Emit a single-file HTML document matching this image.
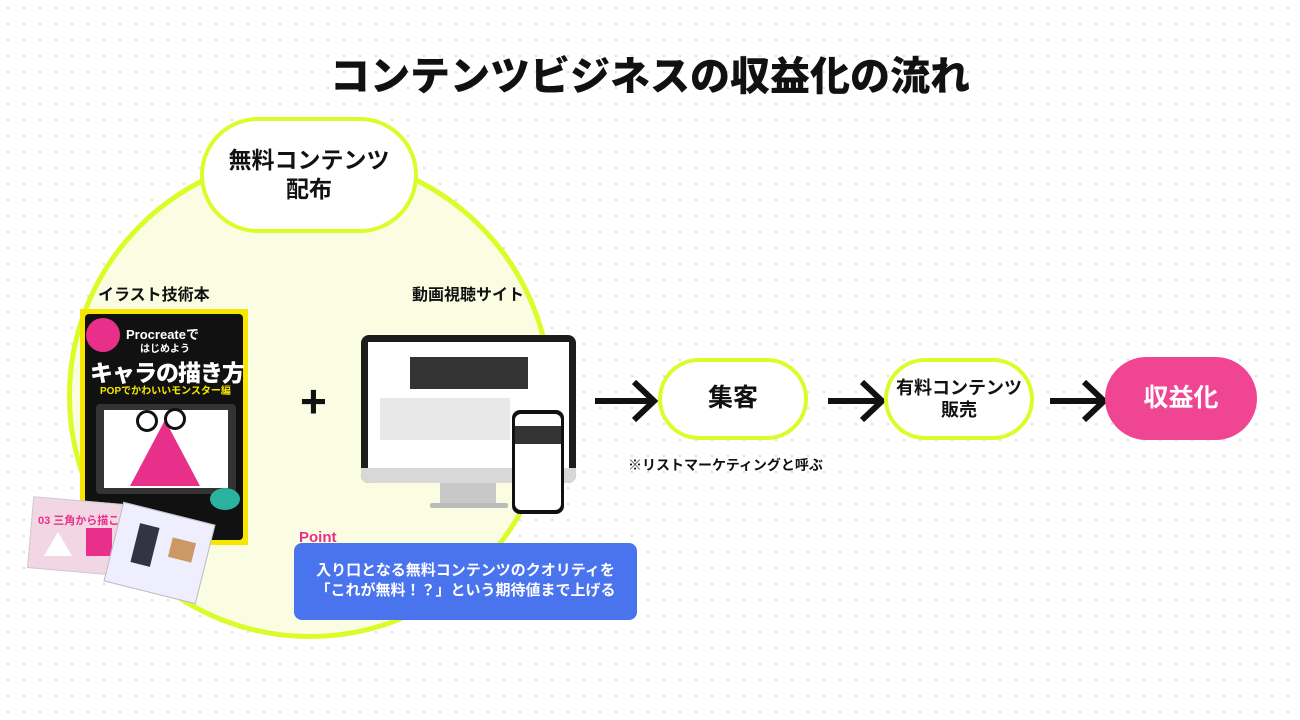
<!DOCTYPE html>
<html><head><meta charset="utf-8"><style>
*{margin:0;padding:0;box-sizing:border-box}
body{width:1300px;height:720px;overflow:hidden;background:#fff;position:relative;font-family:"Liberation Sans","Noto Sans CJK JP",sans-serif;font-weight:700;color:#111;
background-image:radial-gradient(circle,#d8d8d8 0.9px,transparent 1.2px);background-size:16px 16px;}
.abs{position:absolute}
.pill{position:absolute;border:4px solid #dcfc2a;background:#fff;border-radius:60px;display:flex;align-items:center;justify-content:center;text-align:center;line-height:1.25}
</style></head><body>
<div class="abs" style="left:0;top:44px;width:1300px;text-align:center;font-size:40px;font-weight:900">コンテンツビジネスの収益化の流れ</div>

<div class="abs" style="left:67px;top:153px;width:486px;height:486px;border-radius:50%;background:#fbfde3;border:5px solid #dcfc2a"></div>
<div class="pill" style="left:200px;top:117px;width:218px;height:116px;border-radius:58px;font-size:23px">無料コンテンツ<br>配布</div>

<div class="abs" style="left:98px;top:281px;font-size:16px">イラスト技術本</div>
<div class="abs" style="left:412px;top:281px;font-size:16px">動画視聴サイト</div>

<!-- book -->
<div class="abs" style="left:80px;top:309px;width:168px;height:236px;background:#f7e600"></div>
<div class="abs" style="left:85px;top:314px;width:158px;height:226px;background:#111;border-radius:4px"></div>
<div class="abs" style="left:86px;top:318px;width:34px;height:34px;border-radius:50%;background:#e8308a"></div>
<div class="abs" style="left:126px;top:324px;color:#fff;font-size:13px">Procreateで</div>
<div class="abs" style="left:140px;top:340px;color:#fff;font-size:10px">はじめよう</div>
<div class="abs" style="left:90px;top:354px;color:#fff;font-size:23px;font-weight:900;letter-spacing:-1px">キャラの描き方</div>
<div class="abs" style="left:100px;top:382px;color:#f7e600;font-size:10px">POPでかわいいモンスター編</div>
<div class="abs" style="left:96px;top:404px;width:140px;height:90px;background:#333;border-radius:4px"></div>
<div class="abs" style="left:104px;top:410px;width:124px;height:78px;background:#fff"></div>
<div class="abs" style="left:130px;top:420px;width:70px;height:66px;background:#e8308a;clip-path:polygon(50% 0,100% 100%,0 100%)"></div>
<div class="abs" style="left:136px;top:410px;width:22px;height:22px;border-radius:50%;background:#fff;border:3px solid #111"></div>
<div class="abs" style="left:164px;top:408px;width:22px;height:22px;border-radius:50%;background:#fff;border:3px solid #111"></div>
<div class="abs" style="left:210px;top:488px;width:30px;height:22px;border-radius:50%;background:#2bb3a0"></div>
<div class="abs" style="left:30px;top:500px;width:90px;height:72px;background:#f3d6e4;transform:rotate(5deg);border:1px solid #ccc"></div>
<div class="abs" style="left:38px;top:512px;color:#e8308a;font-size:11px">03 三角から描こう!</div>
<div class="abs" style="left:44px;top:532px;width:28px;height:24px;background:#fff;clip-path:polygon(50% 0,100% 100%,0 100%)"></div>
<div class="abs" style="left:86px;top:528px;width:26px;height:28px;background:#e8308a"></div>
<div class="abs" style="left:112px;top:512px;width:95px;height:82px;background:#eef;transform:rotate(14deg);border:1px solid #bbb"></div>
<div class="abs" style="left:135px;top:525px;width:20px;height:40px;background:#334;transform:rotate(14deg)"></div>
<div class="abs" style="left:170px;top:540px;width:24px;height:20px;background:#c96;transform:rotate(14deg)"></div>

<div class="abs" style="left:300px;top:378px;font-size:46px;font-weight:900;line-height:1">+</div>

<!-- monitor -->
<div class="abs" style="left:361px;top:335px;width:215px;height:148px;background:#1c1c1c;border-radius:8px"></div>
<div class="abs" style="left:368px;top:342px;width:201px;height:126px;background:#fff"></div>
<div class="abs" style="left:410px;top:357px;width:118px;height:32px;background:#333"></div>
<div class="abs" style="left:380px;top:398px;width:130px;height:42px;background:#e8e8e8"></div>
<div class="abs" style="left:361px;top:468px;width:215px;height:15px;background:#d8d8d8;border-radius:0 0 8px 8px"></div>
<div class="abs" style="left:440px;top:483px;width:56px;height:20px;background:#c8c8c8"></div>
<div class="abs" style="left:430px;top:503px;width:78px;height:5px;background:#bbb;border-radius:2px"></div>
<div class="abs" style="left:512px;top:410px;width:52px;height:104px;background:#111;border-radius:8px"></div>
<div class="abs" style="left:515px;top:414px;width:46px;height:96px;background:#fff;border-radius:6px"></div>
<div class="abs" style="left:515px;top:426px;width:46px;height:18px;background:#333"></div>

<!-- point -->
<div class="abs" style="left:299px;top:529px;color:#e8308a;font-size:15px;font-weight:900">Point</div>
<div class="abs" style="left:294px;top:543px;width:343px;height:77px;background:#4a74ee;border-radius:8px;color:#fff;font-size:15px;text-align:center;padding-top:18px;line-height:20px">入り口となる無料コンテンツのクオリティを<br>「これが無料！？」という期待値まで上げる</div>

<!-- arrows -->
<svg class="abs" style="left:0;top:0" width="1300" height="720">
<g stroke="#111" stroke-width="6" fill="none" stroke-linecap="butt">
<path d="M595 401H653M634 382L654 401L634 420"/>
<path d="M828 401H881M862 382L882 401L862 420"/>
<path d="M1050 401H1103M1084 382L1104 401L1084 420"/>
</g></svg>
<div class="pill" style="left:658px;top:358px;width:150px;height:82px;font-size:25px">集客</div>
<div class="pill" style="left:884px;top:358px;width:150px;height:82px;font-size:18px">有料コンテンツ<br>販売</div>
<div class="pill" style="left:1105px;top:357px;width:152px;height:83px;background:#ef4592;border:none;color:#fff;font-size:25px">収益化</div>
<div class="abs" style="left:628px;top:455px;font-size:14px">※リストマーケティングと呼ぶ</div>
</body></html>
